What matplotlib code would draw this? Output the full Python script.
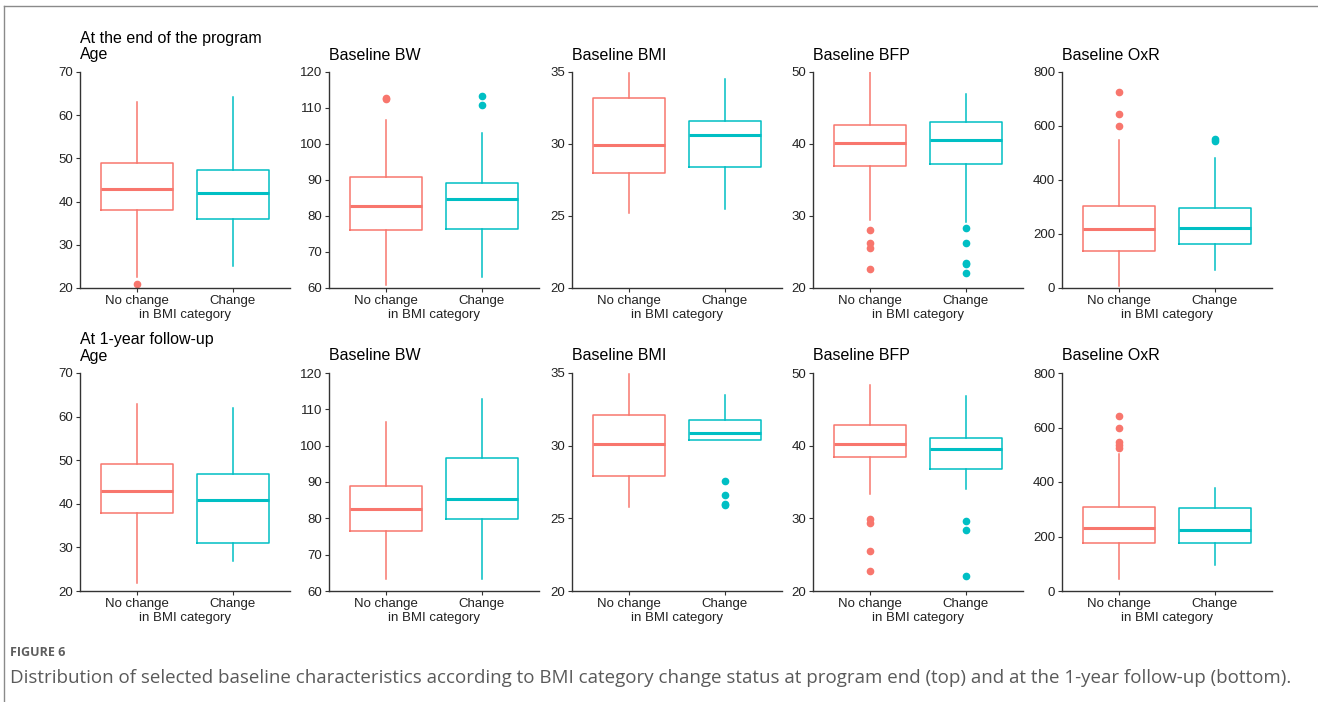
import matplotlib
matplotlib.use("Agg")
import matplotlib.pyplot as plt
from matplotlib.lines import Line2D

plt.rcParams['font.family'] = ['Liberation Sans', 'DejaVu Sans']

# %% DATA
groups = ["No change", "Change"]
colors = ["#F8766D", "#00BFC4"]
panel_titles = ["Age", "Baseline BW", "Baseline BMI", "Baseline BFP", "Baseline OxR"]
row_titles = ["At the end of the program", "At 1-year follow-up"]
x_label = "in BMI category"

y_limits = [(20, 70), (60, 120), (20, 35), (20, 50), (0, 800)]
y_ticks = [[20, 30, 40, 50, 60, 70],
           [60, 70, 80, 90, 100, 110, 120],
           [20, 25, 30, 35],
           [20, 30, 40, 50],
           [0, 200, 400, 600, 800]]

# five-number summaries: [lower whisker, Q1, median, Q3, upper whisker]
end_nochange = [[22.6, 38.0, 42.9, 49.0, 63.1],
                [60.9, 76.1, 82.9, 90.7, 106.6],
                [25.2, 28.0, 29.9, 33.2, 34.9],
                [29.4, 37.0, 40.1, 42.7, 50.0],
                [8, 138, 219, 304, 549]]
end_change = [[25.0, 36.0, 42.0, 47.2, 64.1],
              [63.0, 76.5, 84.8, 89.3, 103.0],
              [25.5, 28.4, 30.6, 31.6, 34.5],
              [29.2, 37.2, 40.5, 43.0, 47.0],
              [68, 164, 224, 296, 482]]
fup_nochange = [[21.9, 37.9, 42.9, 49.1, 62.9],
                [63.3, 76.6, 82.5, 89.0, 106.5],
                [25.8, 27.9, 30.1, 32.1, 34.9],
                [33.3, 38.4, 40.2, 42.9, 48.3],
                [44, 177, 232, 307, 503]]
fup_change = [[26.9, 31.0, 40.9, 46.8, 61.9],
              [63.2, 79.9, 85.3, 96.6, 112.8],
              [30.4, 30.4, 30.9, 31.8, 33.5],
              [34.0, 36.8, 39.5, 41.0, 46.9],
              [96, 176, 223, 304, 377]]

# outliers per panel
end_nochange_out = [[20.9], [112.4, 112.7], [], [28.0, 26.2, 25.5, 22.7], [727, 644, 599]]
end_change_out = [[], [113.3, 110.8], [], [28.4, 26.3, 23.5, 23.3, 22.1], [545, 552]]
fup_nochange_out = [[], [], [], [29.9, 29.3, 25.5, 22.7], [644, 600, 547, 536, 526]]
fup_change_out = [[], [], [27.6, 26.6, 26.0, 25.9], [29.7, 28.4, 22.0], []]

rows = [(end_nochange, end_change, end_nochange_out, end_change_out),
        (fup_nochange, fup_change, fup_nochange_out, fup_change_out)]

# %% LAYOUT (pixel positions of the panels)
W, H = 1318, 702
panel_left = [80, 329, 572, 813, 1062]
panel_width = 210
row_top = [72, 373]
row_bottom = [288, 591]

fig = plt.figure(figsize=(W / 100, H / 100), dpi=100)

for r, (nc, ch, nc_out, ch_out) in enumerate(rows):
    for c in range(5):
        ax = fig.add_axes([panel_left[c] / W, 1 - row_bottom[r] / H,
                           panel_width / W, (row_bottom[r] - row_top[r]) / H])
        for g, (table, outs) in enumerate([(nc, nc_out), (ch, ch_out)]):
            lo, q1, med, q3, hi = table[c]
            stats = [dict(whislo=lo, q1=q1, med=med, q3=q3, whishi=hi,
                          fliers=outs[c], label=groups[g])]
            col = colors[g]
            ax.bxp(stats, positions=[g + 1], widths=0.75, showcaps=False,
                   boxprops=dict(color=col, linewidth=1.1),
                   whiskerprops=dict(color=col, linewidth=1.1),
                   medianprops=dict(color=col, linewidth=2.2),
                   flierprops=dict(marker='o', markerfacecolor=col,
                                   markeredgecolor=col, markersize=4.5))

        ax.set_xlim(0.4, 2.6)
        ax.set_ylim(*y_limits[c])
        ax.set_yticks(y_ticks[c])
        ax.set_xticks([1, 2])
        ax.set_xticklabels(groups)
        ax.set_xlabel(x_label, fontsize=9.5, labelpad=1.5, color='#222222')
        ax.tick_params(length=3, width=0.8, labelsize=9.5, colors='#333333',
                       labelcolor='#222222', pad=2)
        for side in ['top', 'right']:
            ax.spines[side].set_visible(False)
        for side in ['left', 'bottom']:
            ax.spines[side].set_color('#333333')
            ax.spines[side].set_linewidth(1.0)

        title = panel_titles[c]
        if c == 0:
            title = row_titles[r] + "\n" + title
        ax.set_title(title, loc='left', fontsize=11.5, pad=9, color='black',
                     linespacing=1.1)

# %% CAPTION AND FRAME
fig.text(10 / W, 1 - 653 / H, "FIGURE 6", fontsize=9, fontweight='bold',
         color='#5e5e5e', va='center', family=['Open Sans', 'DejaVu Sans'])
fig.text(10 / W, 1 - 678 / H,
         "Distribution of selected baseline characteristics according to BMI category "
         "change status at program end (top) and at the 1-year follow-up (bottom).",
         fontsize=13.5, color='#5a5a5a', va='center', family=['Open Sans', 'DejaVu Sans'])

fig.add_artist(Line2D([4 / W, 4 / W], [0, 1 - 6 / H], color='#8a8a8a', linewidth=1))
fig.add_artist(Line2D([4 / W, 1], [1 - 6 / H, 1 - 6 / H], color='#8a8a8a', linewidth=1))

fig.savefig("out.png", dpi=100)
